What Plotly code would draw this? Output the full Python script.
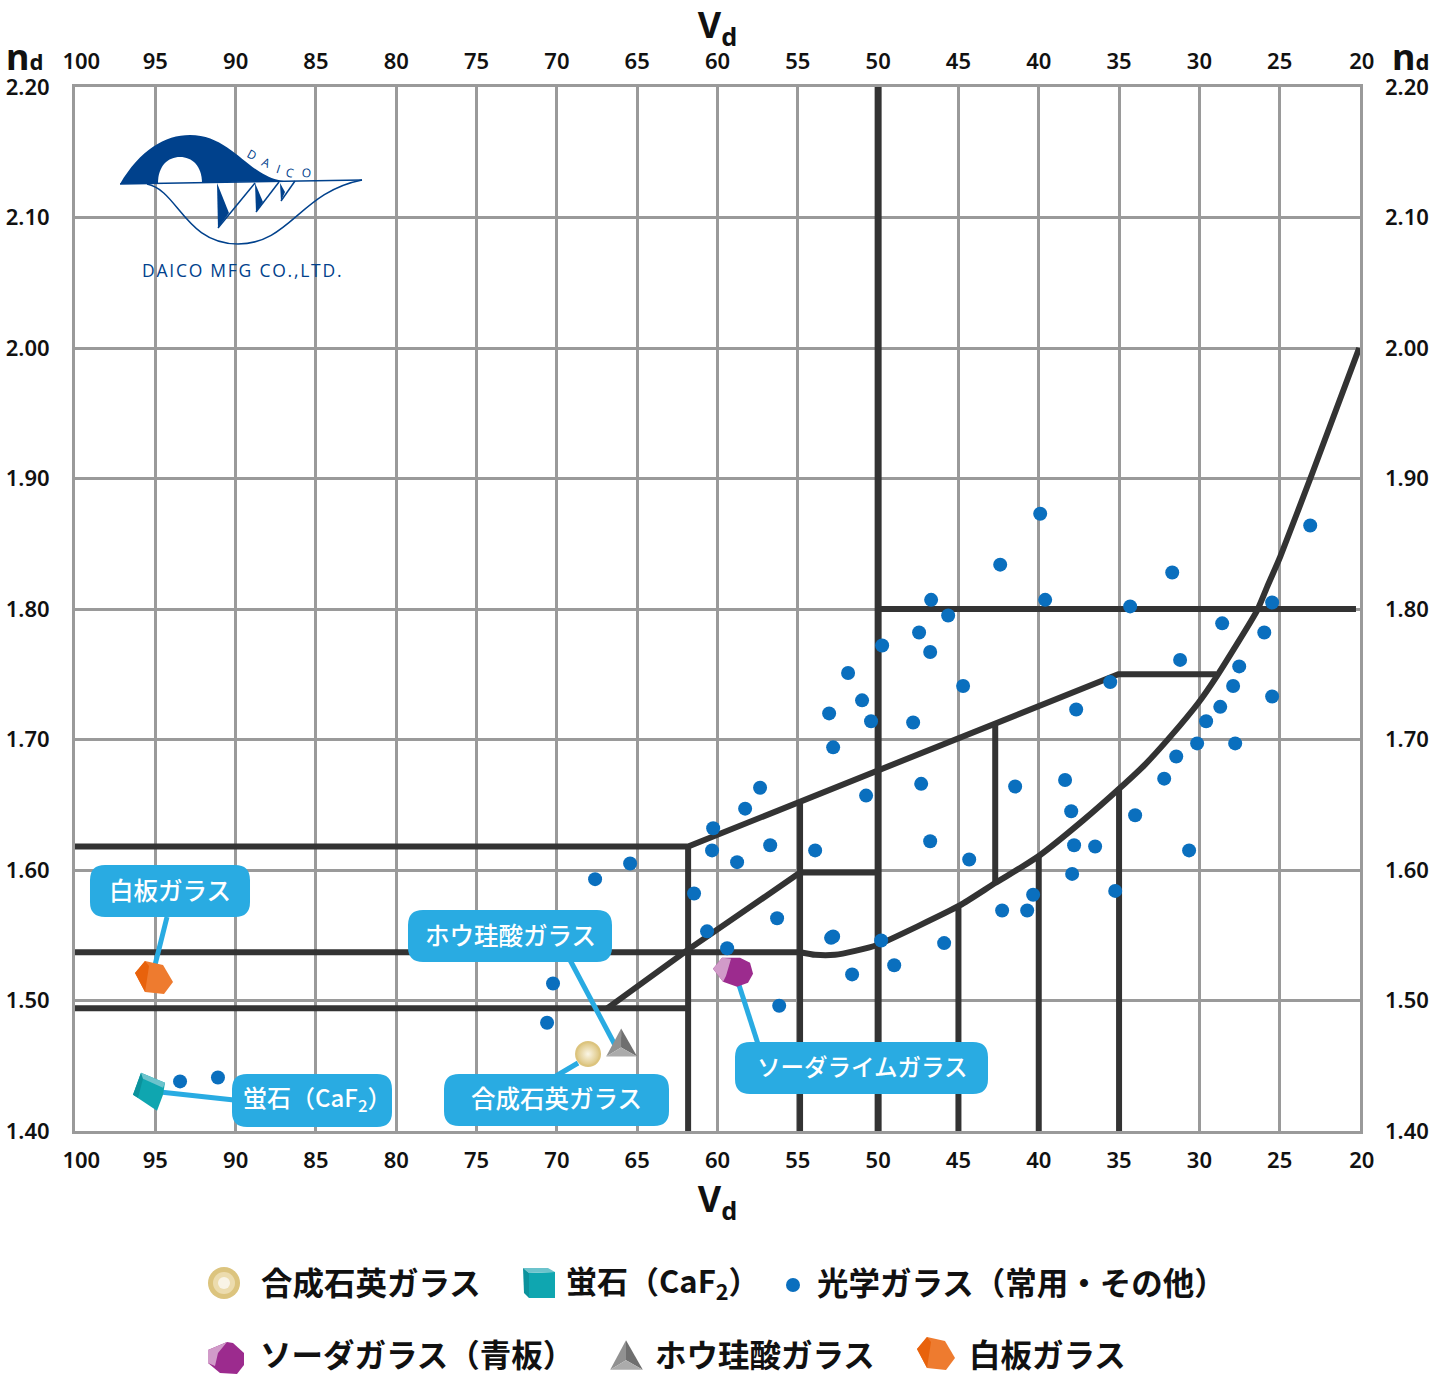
import plotly.graph_objects as go

# optical glass points (Abbe number, refractive index)
optical_vd = [93.46, 91.10, 70.61, 70.24, 67.62, 65.44, 61.46, 60.65, 59.40, 60.27, 60.34, 58.78, 58.28, 57.35, 56.72,
              56.29, 56.16, 53.92, 53.05, 52.80, 52.93, 52.80, 51.87, 51.62, 51.00, 50.75, 50.44, 49.81, 49.75, 49.00,
              47.82, 47.45, 47.32, 46.76, 46.70, 46.76, 45.89, 45.64, 44.71, 44.33, 42.40, 42.28, 41.47, 40.72, 40.35,
              39.91, 39.60, 38.36, 37.98, 37.92, 37.80, 37.67, 36.49, 35.55, 35.24, 34.31, 34.00, 32.19, 31.69, 31.44,
              31.20, 30.64, 30.14, 29.58, 28.70, 28.58, 27.90, 27.77, 27.52, 25.96, 25.47, 25.47, 23.10]
optical_nd = [1.438, 1.441, 1.483, 1.513, 1.593, 1.605, 1.582, 1.553, 1.540, 1.632, 1.615, 1.606, 1.647, 1.663, 1.619,
              1.563, 1.496, 1.615, 1.720, 1.694, 1.548, 1.549, 1.751, 1.520, 1.730, 1.657, 1.714, 1.546, 1.772, 1.527,
              1.713, 1.782, 1.666, 1.767, 1.807, 1.622, 1.544, 1.795, 1.741, 1.608, 1.834, 1.569, 1.664, 1.569, 1.581,
              1.873, 1.807, 1.669, 1.645, 1.597, 1.619, 1.723, 1.618, 1.744, 1.584, 1.802, 1.642, 1.670, 1.828, 1.687,
              1.761, 1.615, 1.697, 1.714, 1.725, 1.789, 1.741, 1.697, 1.756, 1.782, 1.805, 1.733, 1.864]

# named glasses
quartz = (68.06, 1.459)
fluorite = (95.33, 1.430)
soda = (58.97, 1.522)
borosilicate = (66.00, 1.467)
white_plate = (95.08, 1.5165)

# glass type boundaries
curve_vd = [54.86, 53.92, 52.68, 51.43, 50.06, 47.51, 44.89, 42.71, 41.16, 39.91, 37.24, 34.93, 33.37, 31.82, 30.07,
            28.89, 26.40, 25.78, 24.97, 22.97, 20.05]
curve_nd = [1.537, 1.535, 1.535, 1.538, 1.5425, 1.557, 1.573, 1.590, 1.6015, 1.6115, 1.638, 1.663, 1.681, 1.702, 1.728,
            1.749, 1.799, 1.817, 1.840, 1.904, 2.000]
boundary_lines = [
    ([50, 20.25], [1.80, 1.80]),
    ([100, 61.83, 35.05, 28.95], [1.618, 1.618, 1.750, 1.750]),
    ([61.83, 61.83], [1.40, 1.618]),
    ([100, 54.86], [1.537, 1.537]),
    ([100, 61.83], [1.494, 1.494]),
    ([66.87, 61.83, 54.86, 50], [1.494, 1.539, 1.598, 1.598]),
    ([54.86, 54.86], [1.40, 1.652]),
    ([42.71, 42.71], [1.590, 1.713]),
    ([45, 45], [1.40, 1.572]),
    ([40, 40], [1.40, 1.611]),
    ([35, 35], [1.40, 1.663]),
]
center_line_vd = [50, 50]
center_line_nd = [1.40, 2.20]

x_ticks = [100, 95, 90, 85, 80, 75, 70, 65, 60, 55, 50, 45, 40, 35, 30, 25, 20]
# the outer labels sit slightly inside the frame
x_labels = ['\u2007100', '95', '90', '85', '80', '75', '70', '65', '60', '55', '50', '45', '40', '35', '30', '25', '\u200920']
y_ticks = [1.4, 1.5, 1.6, 1.7, 1.8, 1.9, 2.0, 2.1, 2.2]
y_labels = ['1.40', '1.50', '1.60', '1.70', '1.80', '1.90', '2.00', '2.10', '2.20']

# gem outlines in px around the centre: (colour, points), y down
orange_faces = [('#ee7b2f', [(-19, -6), (-9, -18), (9, -14), (19, 3), (10, 15), (-9, 13)]),
                ('#e8620c', [(-19, -6), (-9, -18), (-5, -13), (-9, 13)])]
teal_faces = [('#0fa6b0', [(-9, -19), (15, -9), (13, 3), (7, 19), (-17, 3)]),
              ('#0b929c', [(-17, 3), (-9, -19), (-7, -13), (-12, 6)]),
              ('#6cc3cc', [(-9, -19), (15, -9), (13, -4), (-7, -13)])]
purple_faces = [('#9c2b8e', [(-21, -3), (-12, -14), (6, -14), (16, -9), (19, 2), (14, 11), (3, 15), (-11, 10)]),
                ('#d19bc9', [(-21, -3), (-12, -14), (-3, -13), (-8, 4), (-11, 10)])]
purple_key_faces = [('#9c2b8e', [(1, -16), (7, -15), (18, -5), (18, 7), (11, 16), (-6, 15), (-18, 5), (-18, -8)]),
                    ('#d19bc9', [(1, -16), (-18, -8), (-18, 5), (-11, 8), (-8, -5)])]
grey_faces = [('#919191', [(0, -15), (-15, 13), (0, 4)]),
              ('#6f6f6f', [(0, -15), (16, 13), (0, 4)]),
              ('#ababab', [(-15, 13), (16, 13), (0, 4)])]

BLUE = '#29abe2'
DARK = '#333333'
LOGO = '#00418c'
JP = 'Noto Sans CJK JP'
L, T, W, H = 75, 87, 1285, 1044


def px(x, y):
    return '%.5f,%.5f' % ((x - L) / W, (T + H - y) / H)


def page_path(points, close=True):
    return 'M' + ' L'.join(px(*p) for p in points) + (' Z' if close else '')


def page_shape(path, fill=None, line=None, width=0):
    d = dict(type='path', xref='paper', yref='paper', path=path, layer='above', line=dict(width=width, color=line or 'rgba(0,0,0,0)'))
    if fill:
        d['fillcolor'] = fill
    return d


def gem(faces, xa, ya, xref='x', yref='y', scale=1.0):
    out = []
    for color, pts in faces:
        path = 'M' + ' L'.join('%.1f,%.1f' % (a * scale, -b * scale) for a, b in pts) + ' Z'
        out.append(dict(type='path', xref=xref, yref=yref, xsizemode='pixel', ysizemode='pixel', xanchor=xa, yanchor=ya,
                        path=path, fillcolor=color, line=dict(width=0), layer='above'))
    return out


def legend_gem(faces, x, y, scale=1.0):
    return gem(faces, (x - L) / W, (T + H - y) / H, 'paper', 'paper', scale)


def round_box(x0, y0, x1, y1, r=15):
    return ('M' + px(x0 + r, y0) + ' L' + px(x1 - r, y0) + ' Q' + px(x1, y0) + ' ' + px(x1, y0 + r) +
            ' L' + px(x1, y1 - r) + ' Q' + px(x1, y1) + ' ' + px(x1 - r, y1) +
            ' L' + px(x0 + r, y1) + ' Q' + px(x0, y1) + ' ' + px(x0, y1 - r) +
            ' L' + px(x0, y0 + r) + ' Q' + px(x0, y0) + ' ' + px(x0 + r, y0) + ' Z')


def text(x, y, s, size, color='#111111', family=JP, weight=700, rot=0, anchor='center'):
    return dict(xref='paper', yref='paper', x=(x - L) / W, y=(T + H - y) / H, text=s, showarrow=False, xanchor=anchor,
                yanchor='middle', textangle=rot, font=dict(size=size, color=color, family=family, weight=weight))


fig = go.Figure()

for xs, ys in boundary_lines:
    fig.add_trace(go.Scatter(x=xs, y=ys, mode='lines', line=dict(color=DARK, width=6), hoverinfo='skip'))
fig.add_trace(go.Scatter(x=center_line_vd, y=center_line_nd, mode='lines', line=dict(color=DARK, width=7), hoverinfo='skip'))
fig.add_trace(go.Scatter(x=curve_vd, y=curve_nd, mode='lines', line=dict(color=DARK, width=6, shape='spline', smoothing=0.5),
                         hoverinfo='skip'))

# dots go on the overlaid axes so they sit on top of the lines
fig.add_trace(go.Scatter(x=optical_vd, y=optical_nd, xaxis='x2', yaxis='y2', mode='markers', name='光学ガラス',
                         marker=dict(color='#0a6fbe', size=14)))
specials = [('蛍石', fluorite, 'square', 14), ('ソーダガラス', soda, 'octagon', 24),
            ('ホウ珪酸ガラス', borosilicate, 'triangle-up', 14), ('白板ガラス', white_plate, 'hexagon', 24)]
for name, p, symbol, size in specials:
    fig.add_trace(go.Scatter(x=[p[0]], y=[p[1]], xaxis='x2', yaxis='y2', mode='markers', name=name,
                             marker=dict(symbol=symbol, size=size, color='#888888')))
fig.add_trace(go.Scatter(x=[quartz[0]], y=[quartz[1]], xaxis='x2', yaxis='y2', mode='markers', name='合成石英ガラス',
                         marker=dict(size=24, color='#dcc47e', gradient=dict(type='radial', color='#fbf6e6'),
                                     line=dict(color='#dcc47e', width=2))))

# logo
shapes = [
    page_shape('M' + px(120, 184) + ' C' + px(140, 150) + ' ' + px(165, 135) + ' ' + px(190, 135) + ' C' + px(222, 135) + ' ' +
               px(240, 160) + ' ' + px(260, 172) + ' C' + px(268, 177) + ' ' + px(275, 180) + ' ' + px(284, 181) + ' Z', LOGO),
    page_shape('M' + px(158, 183) + ' C' + px(158, 166) + ' ' + px(168, 157) + ' ' + px(180, 157) + ' C' + px(192, 157) + ' ' +
               px(202, 166) + ' ' + px(202, 183) + ' Z', 'white'),
    page_shape(page_path([(120, 184), (362, 180)], False), line=LOGO, width=1.5),
    page_shape('M' + px(147, 184) + ' C' + px(178, 190) + ' ' + px(185, 244) + ' ' + px(238, 244) + ' C' + px(290, 244) + ' ' +
               px(300, 192) + ' ' + px(362, 180), line=LOGO, width=1.5),
    page_shape(page_path([(217, 183), (229, 213), (218, 228)]), LOGO),
    page_shape(page_path([(218, 228), (255, 183)], False), line=LOGO, width=1.5),
    page_shape(page_path([(255, 183), (263, 202), (256, 212)]), LOGO),
    page_shape(page_path([(256, 212), (279, 182)], False), line=LOGO, width=1.5),
    page_shape(page_path([(280, 183), (285, 192), (281, 201)]), LOGO),
    page_shape(page_path([(281, 201), (295, 181)], False), line=LOGO, width=1.5),
]

# callouts: leader lines, then boxes, then gems
for a, b in [((167, 917), (155, 965)), ((570, 960), (615, 1045)), ((556, 1076), (578, 1063)),
             ((234, 1100), (160, 1092)), ((758, 1044), (739, 985))]:
    shapes.append(page_shape(page_path([a, b], False), line=BLUE, width=5))
for box in [(90, 865, 250, 917), (408, 910, 612, 962), (444, 1074, 669, 1126), (232, 1074, 392, 1127), (735, 1042, 988, 1094)]:
    shapes.append(page_shape(round_box(*box), BLUE))
shapes += gem(orange_faces, *white_plate, 'x2', 'y2')
shapes += gem(teal_faces, *fluorite, 'x2', 'y2')
shapes += gem(purple_faces, *soda, 'x2', 'y2')
shapes += gem(grey_faces, *borosilicate, 'x2', 'y2')

# legend icons
for r, c in [(16, '#dcc47e'), (11, '#ecdcae'), (6, '#f9f4e6')]:
    shapes.append(dict(type='circle', xref='paper', yref='paper', x0=(224 - r - L) / W, x1=(224 + r - L) / W,
                       y0=(T + H - 1283 - r) / H, y1=(T + H - 1283 + r) / H, fillcolor=c, line=dict(width=0), layer='above'))
shapes.append(page_shape(page_path([(529, 1273), (555, 1272), (555, 1298), (529, 1298)]), '#0fa6b0'))
shapes.append(page_shape(page_path([(523, 1268), (548, 1268), (555, 1272), (529, 1273)]), '#6cc3cc'))
shapes.append(page_shape(page_path([(523, 1268), (529, 1273), (529, 1298), (524, 1293)]), '#0b929c'))
shapes.append(dict(type='circle', xref='paper', yref='paper', x0=(786 - L) / W, x1=(800 - L) / W, y0=(T + H - 1292) / H,
                   y1=(T + H - 1278) / H, fillcolor='#0a6fbe', line=dict(width=0), layer='above'))
shapes += legend_gem(purple_key_faces, 226, 1358)
shapes += legend_gem(grey_faces, 626, 1356, 1.05)
shapes += legend_gem(orange_faces, 936, 1355, 1.0)

annotations = [
    text(241, 270, '\u200a'.join('DAICO MFG CO.,LTD.'), 17.5, LOGO, 'Open Sans', 400),
    text(252, 154, 'D', 12, LOGO, 'Open Sans', 400, 28),
    text(266, 163, 'A', 12, LOGO, 'Open Sans', 400, 24),
    text(278, 168, 'I', 12, LOGO, 'Open Sans', 400, 18),
    text(290, 172, 'C', 12, LOGO, 'Open Sans', 400, 14),
    text(306, 172, 'O', 12, LOGO, 'Open Sans', 400, 8),
    text(24, 56, "n<span style='font-size:22px'>d</span>", 36, '#111111', 'Noto Sans', 700),
    text(1410, 56, "n<span style='font-size:22px'>d</span>", 36, '#111111', 'Noto Sans', 700),
    text(170, 889, '白板ガラス', 24.5, 'white', JP, 500),
    text(510, 934, 'ホウ珪酸ガラス', 24.5, 'white', JP, 500),
    text(556, 1097, '合成石英ガラス', 24.5, 'white', JP, 500),
    text(317, 1098, '蛍石（CaF<sub>2</sub>）', 24, 'white', JP, 500),
    text(862, 1066, 'ソーダライムガラス', 23.5, 'white', JP, 500),
    text(259, 1281, '合成石英ガラス', 31.5, anchor='left'),
    text(564, 1281, '蛍石（CaF<sub>2</sub>）', 31, anchor='left'),
    text(815, 1281, '光学ガラス（常用・その他）', 31.5, anchor='left'),
    text(258, 1353, 'ソーダガラス（青板）', 31.5, anchor='left'),
    text(653, 1353, 'ホウ珪酸ガラス', 31.5, anchor='left'),
    text(967, 1353, '白板ガラス', 31.5, anchor='left'),
]

tick_font = dict(family='Noto Sans', size=22, color='#111111', weight=600)
title_font = dict(family='Noto Sans', size=36, color='#111111', weight=700)
x_common = dict(range=[100, 20], tickvals=x_ticks, ticktext=x_labels, tickfont=tick_font, ticks='',
                gridcolor='#9a9a9a', gridwidth=3, zeroline=False)
y_common = dict(range=[1.4, 2.2], tickvals=y_ticks, ticktext=y_labels, tickfont=tick_font, ticks='',
                gridcolor='#9a9a9a', gridwidth=3, zeroline=False)

fig.update_layout(
    width=1440, height=1392, margin=dict(l=L, r=1440 - L - W, t=T, b=1392 - T - H, autoexpand=False),
    paper_bgcolor='white', plot_bgcolor='white', showlegend=False, hovermode=False,
    xaxis=dict(**x_common, showgrid=True, showline=True, linecolor='#9a9a9a', linewidth=3, mirror=True, ticklabelstandoff=8,
               title=dict(text='V<sub>d</sub>', font=title_font, standoff=0)),
    yaxis=dict(**y_common, showgrid=True, showline=True, linecolor='#9a9a9a', linewidth=3, mirror=True, ticklabelstandoff=18),
    xaxis2=dict(**x_common, showgrid=False, overlaying='x', side='top', anchor='y', ticklabelstandoff=13,
                title=dict(text='V<sub>d</sub>', font=title_font, standoff=5)),
    yaxis2=dict(**y_common, showgrid=False, overlaying='y', side='right', anchor='x', ticklabelstandoff=24),
    shapes=shapes, annotations=annotations,
)

fig.write_html("out.html", post_script="document.body.style.margin='0';", config={'displayModeBar': False})
